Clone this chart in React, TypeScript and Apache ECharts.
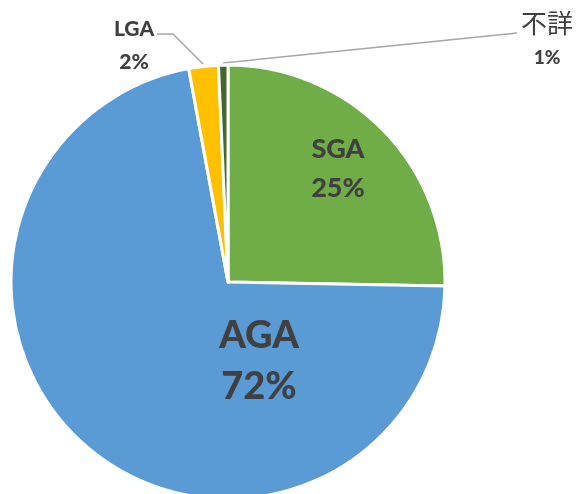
import React, { useEffect, useRef } from "react";
import * as echarts from "echarts";

const categories = ["SGA", "AGA", "LGA", "不詳"];
const values = [25.3, 71.8, 2.2, 0.7];
const colors = ["#70AD47", "#5B9BD5", "#FFC000", "#43682B"];
const richKeys = ["s", "a", "l", "u"];

export default function App() {
  const ref = useRef<HTMLDivElement>(null);
  useEffect(() => {
    document.body.style.margin = "0";
    const chart = echarts.init(ref.current!, null, { renderer: "svg" });
    const layout: any[] = [
      { x: 338, y: 167, line: null },
      { x: 259, y: 358, line: null },
      { x: 134, y: 44, line: [[157, 34], [173, 34], [203, 64]] },
      { x: 547, y: 39, line: [[223, 63], [370, 48], [517, 33]] },
    ];
    const lat = "Lato, 'Noto Sans CJK JP', sans-serif";
    const txt = "#404040";
    const w = 900;
    chart.setOption({
      animation: false,
      series: [
        {
          type: "pie",
          center: [228, 282],
          radius: 217,
          startAngle: 90,
          clockwise: true,
          avoidLabelOverlap: false,
          itemStyle: { borderColor: "#fff", borderWidth: 3 },
          label: {
            color: txt,
            fontFamily: lat,
            formatter: (p: any) => {
              const k = richKeys[p.dataIndex];
              return `{${k}n|${p.name}}\n{${k}p|${Math.round(p.percent)}%}`;
            },
            rich: {
              sn: { fontSize: 27, fontWeight: w, lineHeight: 39, color: txt, fontFamily: lat },
              sp: { fontSize: 27, fontWeight: w, lineHeight: 39, color: txt, fontFamily: lat },
              an: { fontSize: 38, fontWeight: w, lineHeight: 51, color: txt, fontFamily: lat },
              ap: { fontSize: 38, fontWeight: w, lineHeight: 51, color: txt, fontFamily: lat },
              ln: { fontSize: 21, fontWeight: w, lineHeight: 33, color: txt, fontFamily: lat },
              lp: { fontSize: 21, fontWeight: w, lineHeight: 33, color: txt, fontFamily: lat },
              un: { fontSize: 26, fontWeight: "normal", lineHeight: 35, color: txt, fontFamily: "'Noto Sans CJK JP', sans-serif" },
              up: { fontSize: 19, fontWeight: w, lineHeight: 35, color: txt, fontFamily: lat },
            },
          },
          labelLine: { show: true, lineStyle: { color: "#A6A6A6", width: 1.5 } },
          labelLayout: (params: any) => {
            const l = layout[params.dataIndex];
            const o: any = { x: l.x, y: l.y, align: "center", verticalAlign: "middle" };
            if (l.line) o.labelLinePoints = l.line;
            return o;
          },
          data: categories.map((name, i) => ({
            name,
            value: values[i],
            itemStyle: { color: colors[i] },
            label: { position: i < 2 ? "inside" : "outside" },
            labelLine: { show: i >= 2 },
          })),
        },
      ],
    });
    return () => chart.dispose();
  }, []);
  return (
    <div
      ref={ref}
      style={{ position: "fixed", left: 0, top: 0, width: 579, height: 494 }}
    />
  );
}
